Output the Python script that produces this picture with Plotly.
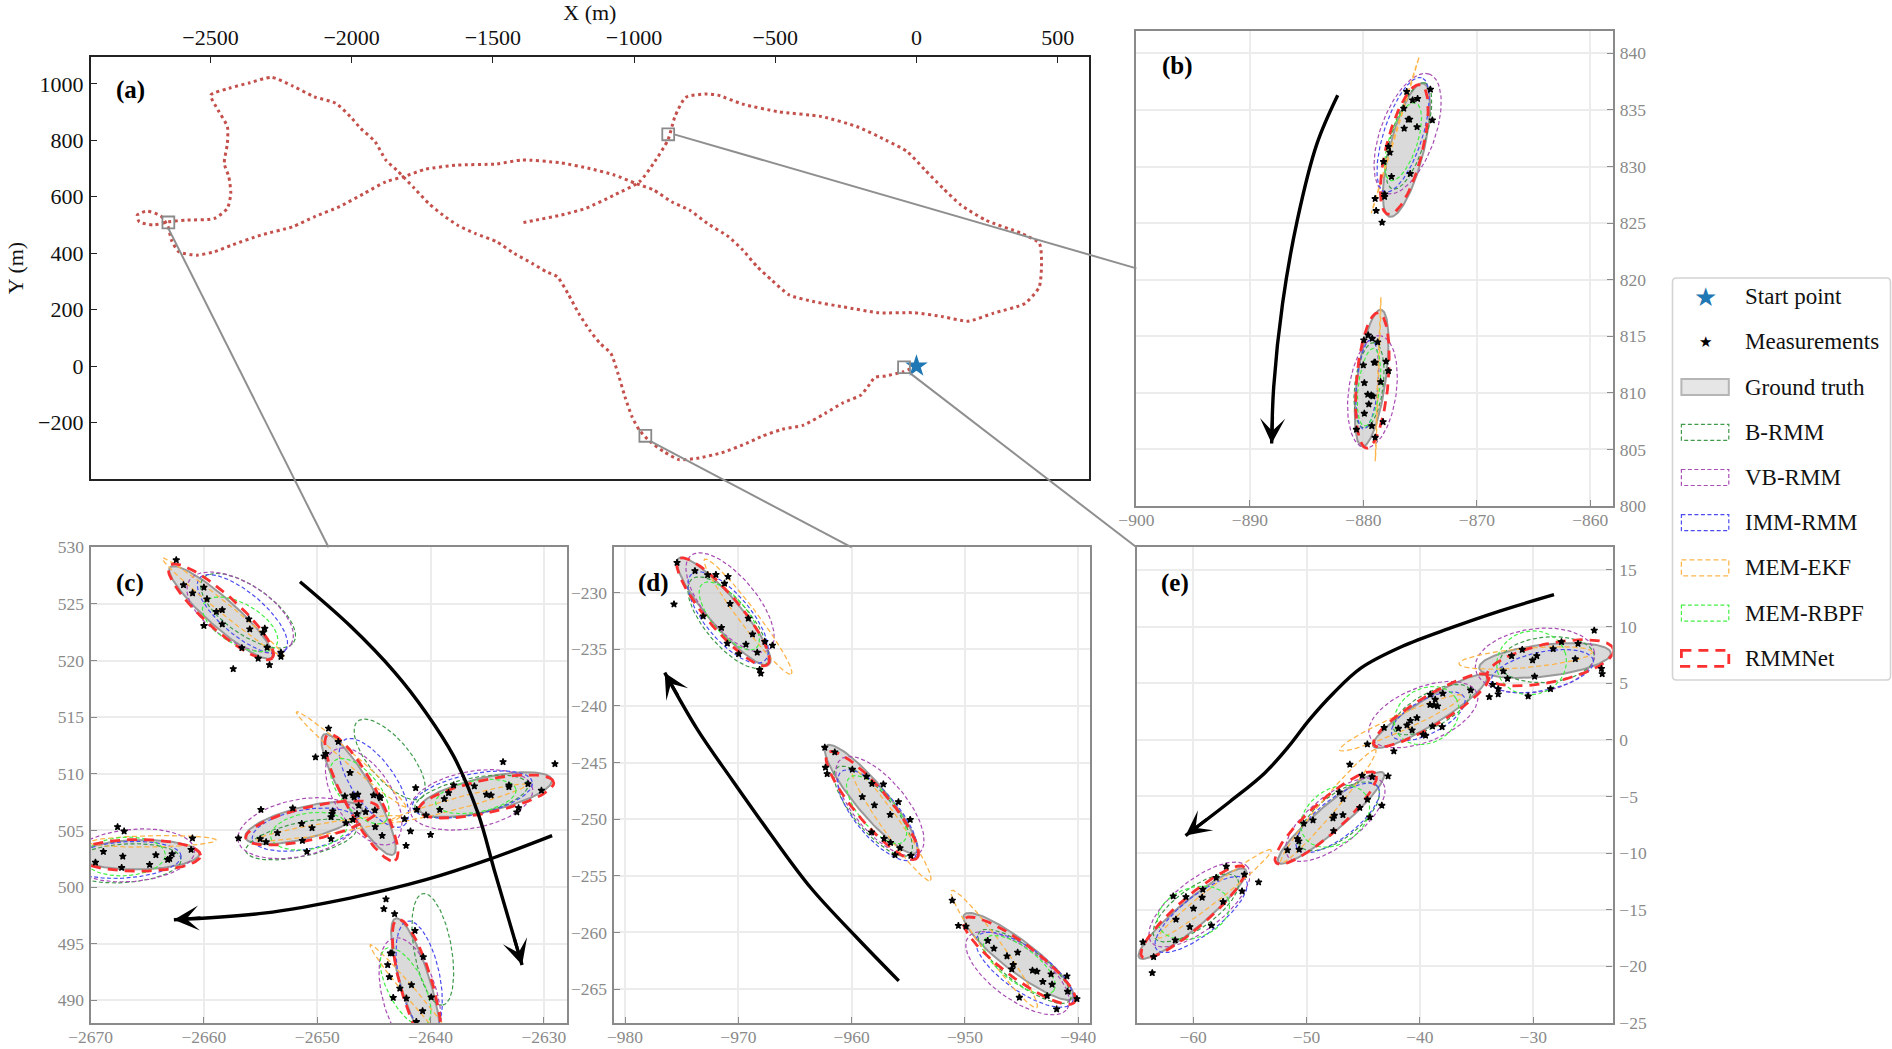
import numpy as np
import plotly.graph_objects as go

W, H = 1892, 1049
SERIF = "Liberation Serif"

# ---------- panel (a): trajectory ----------
TRACK_X = [0,-46,-109,-147,-172,-197,-260,-324,-400,-475,-551,-602,-690,-779,-842,-893,-943,-981,-1007,-1032,-1057,-1082,-1120,-1158,-1196,-1234,-1272,-1310,-1361,-1424,-1487,-1563,-1626,-1677,-1727,-1778,-1841,-1879,-1917,-1968,-2005,-2056,-2132,-2208,-2284,-2360,-2435,-2499,-2473,-2440,-2440,-2451,-2435,-2428,-2440,-2486,-2587,-2650,-2701,-2752,-2759,-2726,-2676,-2650,-2638,-2612,-2549,-2486,-2423,-2322,-2208,-2132,-2043,-1955,-1879,-1816,-1740,-1626,-1487,-1399,-1259,-1158,-1070,-994,-931,-867,-804,-741,-665,-615,-564,-513,-450,-362,-260,-134,-8,94,182,271,384,435,443,435,372,245,157,94,30,-33,-109,-210,-336,-488,-615,-703,-741,-817,-855,-880,-931,-981,-1070,-1171,-1259,-1348,-1404]
TRACK_Y = [0,-20,-35,-40,-73,-103,-130,-168,-209,-224,-250,-274,-307,-327,-331,-304,-268,-227,-180,-109,-26,45,80,128,187,257,317,334,364,399,441,470,500,535,576,630,695,730,795,842,884,931,954,992,1023,1004,984,960,907,848,789,718,671,612,559,523,517,511,500,511,535,549,532,494,446,405,393,405,429,464,494,529,565,612,653,671,697,712,716,730,720,700,677,647,624,582,553,506,458,411,352,305,252,228,210,189,189,175,159,187,222,281,376,435,470,517,571,630,695,760,801,848,884,901,928,960,964,952,884,801,718,653,606,559,535,517,506]

# panel ranges (detail views are the boxes marked in panel a)
RANGE_A = ([-2924, 611], [-400, 1095])
RANGE_B = ([-900, -858], [800, 842])
RANGE_C = ([-2670, -2628], [488, 530])
RANGE_D = ([-981, -939], [-268, -226])
RANGE_E = ([-65, -23], [-25, 17])

# Ellipses: (centre x, centre y, semi-major, semi-minor, angle deg)
ELL_B = {
 "Ground truth": [(-876.2,831.45,6.08,1.5,75.8),(-879.27,811.3,6.1,1.25,82.2)],
 "B-RMM": [(-876,832.7,4.9,1.5,73),(-879.5,810.67,3.8,1.25,83)],
 "VB-RMM": [(-876.1,832.9,5.6,2.4,70),(-879.2,810.1,5.0,2.1,82)],
 "IMM-RMM": [(-876.5,832.8,5.3,1.7,72),(-879.65,810.75,3.95,0.95,85)],
 "MEM-EKF": [(-877.2,832.75,7.2,0.05,73),(-878.7,811.2,7.25,0.05,88)],
 "MEM-RBPF": [(-876.5,832.2,3.6,1.25,72),(-879.5,810.5,3.45,0.95,83)],
 "RMMNet": [(-876.4,831.5,5.9,1.6,76),(-879.2,811.1,6.0,1.4,85)],
}
ELL_C = {
 "Ground truth": [(-2658.5,524.25,6.0,1.25,-41.6),(-2646.35,508.17,6.12,1.35,-60),(-2651.2,505.66,5.3,1.4,14),(-2665.7,502.86,5.3,1.3,1),(-2635.15,508.17,6.0,1.5,12.7),(-2641.3,491.4,6.1,1.3,-73)],
 "B-RMM": [(-2656.1,524.4,4.9,2.1,-35),(-2643.6,511.27,4.4,1.8,-50),(-2651.4,504.2,5.0,1.5,12),(-2667,502.1,5.0,1.7,4),(-2636.4,508,5.1,1.6,12),(-2639.8,494.5,5.0,1.65,-80)],
 "VB-RMM": [(-2656.8,524.25,5.3,2.6,-32),(-2645.9,508,4.85,2.5,-57),(-2651.7,505.2,5.4,2.5,12),(-2666.3,502.8,5.5,2.3,5),(-2636.4,507.7,5.5,2.5,11),(-2641.8,490.3,5.4,2.4,-74)],
 "IMM-RMM": [(-2656.6,524.1,4.95,1.9,-40),(-2645,509.2,4.6,1.9,-55),(-2651.1,505.07,4.7,1.75,10),(-2667,502.4,5.0,1.6,4),(-2636.3,508.17,5.4,1.8,12),(-2641,492.1,5.0,1.8,-78)],
 "MEM-EKF": [(-2658.3,524.7,6.9,0.5,-39),(-2647,511.27,6.4,0.5,-41),(-2649,505.2,6.4,0.5,9),(-2664.5,504.04,5.6,0.5,1),(-2637.6,507.4,6.3,0.5,15),(-2641.2,490,6.4,0.5,-50)],
 "MEM-RBPF": [(-2656.8,523.2,3.7,1.8,-30),(-2646.25,508.47,3.5,1.7,-50),(-2650.75,504.93,3.4,1.6,9),(-2667,502.7,3.6,1.7,3),(-2636,508,3.6,1.4,10),(-2642.2,491.2,3.8,1.6,-63)],
 "RMMNet": [(-2658.5,524.3,6.1,1.5,-42),(-2646.1,507.9,6.3,1.45,-62),(-2650.45,505.66,6.0,1.45,13),(-2665.8,502.8,5.5,1.4,0),(-2635.1,508,6.1,1.45,12),(-2641.2,491.2,6.2,1.4,-74)],
}
ELL_D = {
 "Ground truth": [(-971.29,-231.66,6.15,1.37,-49.4),(-958.27,-248.25,6.17,1.37,-50),(-945.27,-262.12,6.04,1.37,-37.6)],
 "B-RMM": [(-970.9,-232.65,5.0,2.0,-50),(-958.1,-249.3,5.0,1.7,-50),(-944.74,-263,5.0,1.6,-37)],
 "VB-RMM": [(-970.73,-230.88,5.4,2.3,-50),(-957.5,-248.86,5.4,2.3,-50),(-945.35,-263.6,5.4,2.3,-36)],
 "IMM-RMM": [(-970.9,-232.2,5.0,2.0,-50),(-957.72,-249.66,5.0,1.9,-50),(-944.74,-263.3,5.1,1.9,-35)],
 "MEM-EKF": [(-969.15,-232.12,6.35,0.8,-53),(-956.5,-250.5,6.0,0.8,-55),(-947.42,-261.48,6.4,0.8,-54)],
 "MEM-RBPF": [(-970.8,-232.06,3.7,1.55,-50),(-957.8,-249.16,3.7,1.55,-50),(-945.2,-262.86,3.8,1.55,-37)],
 "RMMNet": [(-971.35,-231.7,6.1,1.5,-50),(-958.18,-248.8,6.1,1.5,-50),(-945.2,-262.5,6.1,1.5,-37)],
}
ELL_E = {
 "Ground truth": [(-28.96,7.01,5.84,1.4,6.5),(-39.1,2.52,5.88,1.15,31.7),(-47.84,-6.89,6.1,1.15,40.5),(-60.06,-15.35,6.1,1.2,39.6)],
 "B-RMM": [(-28.8,7.08,4.2,2.0,5),(-38.95,2.67,3.8,1.5,28),(-47.15,-6.75,4.3,1.9,38),(-59.76,-14.84,4.5,1.75,36)],
 "VB-RMM": [(-29.85,7,5.3,2.8,8),(-39.7,2.23,5.1,2.4,22),(-47.46,-7.04,5.3,2.2,38),(-59.45,-14.54,5.4,2.2,38)],
 "IMM-RMM": [(-29.2,6.06,4.6,1.7,12),(-39.26,2.08,3.6,1.5,28),(-47.25,-6.9,4.5,1.7,38),(-59.3,-15.42,5.0,1.7,38)],
 "MEM-EKF": [(-30.67,7.23,5.9,0.85,5),(-41.7,1.5,5.9,0.7,24),(-48.07,-5.86,6.5,0.7,50),(-58.1,-13.6,6.3,0.65,38)],
 "MEM-RBPF": [(-30.15,6.8,3.1,2.8,15),(-39.4,2.14,3.0,2.4,30),(-47.46,-6.75,3.3,2.4,35),(-59.97,-15.27,3.3,2.2,20)],
 "RMMNet": [(-28.5,6.8,5.7,1.7,12),(-39,2.6,5.9,1.3,31),(-48.3,-6.9,5.9,1.4,42),(-60,-15.2,6.0,1.35,41)],
}

# Measurements
MEAS_B_X = [-876.18,-875.66,-875.22,-876.44,-876.05,-875.92,-873.92,-874.09,-876.4,-875.27,-877.79,-877.66,-878.22,-875.87,-877.52,-878.13,-878.13,-878.96,-878.87,-878.35,
            -879.96,-879.57,-879.22,-878.74,-879.04,-878.96,-880,-878,-877.79,-878.48,-879.91,-879.61,-879.3,-879.17,-879.52,-879.91,-879.26,-878.26,-880.61,-878.96]
MEAS_B_Y = [836.61,835.87,835.99,835.14,834.16,834.16,834.1,836.82,833.37,833.49,831.75,831.25,830.42,829.36,829.1,827.56,827.33,827.15,826.09,825.06,
            814.65,815.1,814.8,814.48,812.68,812.68,812.44,812.77,811.94,810.97,810.88,809.85,809.79,809.7,808.99,808.17,807.08,807.43,806.76,806.05]
MEAS_C_X = [-2662.44,-2661.8,-2661,-2660,-2659.73,-2658.9,-2658.38,-2658.38,-2660,-2656.04,-2655.95,-2654.63,-2654.79,-2654.42,-2656.65,-2655.21,-2654.21,-2653.2,-2653.2,-2657.41,
            -2649,-2648.14,-2650.15,-2649.39,-2649.24,-2647.1,-2647.56,-2646.86,-2646.43,-2646.74,-2645.03,-2644.51,-2644.42,-2646.34,-2645.73,-2644.91,-2646.49,-2646.86,-2644.88,-2644.27,-2642.16,-2641.77,-2642.29,-2641.31,-2641.22,
            -2654.97,-2652.16,-2656.95,-2655.03,-2654.51,-2653.51,-2651.37,-2650.46,-2651.31,-2650.91,-2648.69,-2648.63,-2648.78,-2648.78,-2647.47,
            -2667.62,-2667.04,-2668.87,-2667.16,-2669.57,-2667.26,-2664.79,-2664.24,-2662.8,-2663.02,-2663.2,-2661.13,-2661.01,
            -2640,-2640.4,-2639.18,-2638.78,-2638.41,-2637.96,-2636.13,-2635.06,-2634.66,-2633.08,-2633.08,-2633.6,-2631.4,-2630.21,-2629.02,-2632.23,-2632.38,
            -2643.93,-2644.12,-2643.17,-2641.37,-2643.54,-2643.41,-2640.64,-2643.78,-2643.63,-2641.68,-2642.71,-2643.29,-2642.13,-2639.94,-2640.7,-2641.25]
MEAS_C_Y = [528.88,526.67,525.96,526.46,525.43,524.31,524.48,523.22,523.07,523.66,522.77,522.83,522.48,521.15,521.12,520.18,519.62,520.71,520.35,519.26,
            514.01,512.83,511.47,511.56,511.77,510.09,508.02,508.11,508.17,507.94,508.11,508.02,507.88,507.2,506.64,506.78,506.46,505.96,505.31,504.54,503.66,504.93,506.02,508.76,506.84,
            506.84,506.96,504.31,504.25,503.98,504.78,505.6,505.22,504.1,503.13,506.49,506.7,506.19,504.25,505.66,
            505.31,504.93,503.13,502.71,502.18,501.71,501.98,502.83,502.92,502.51,502.42,503.3,504.31,
            504.63,506.34,506.84,507.79,508.32,509,508.91,508.17,508.11,509,508.85,511.06,509.11,508.53,510.88,506.99,506.61,
            498.94,498.08,497.64,496.16,494.16,494.16,493.83,493.13,492.06,491.36,491.06,490.24,490.18,490.27,489.06,488.11]
MEAS_D_X = [-975.41,-973.83,-972.71,-971.98,-970.91,-971.22,-975.68,-970.73,-973.1,-969.12,-971.49,-968.75,-970.97,-969.33,-967.66,-966.99,-969.97,-968.33,-968.12,-968.02,
            -962.37,-961.49,-962.31,-962.16,-959.94,-958.69,-958.21,-957.2,-959.06,-957.99,-955.87,-956.6,-954.83,-958.24,-957.14,-956.57,-955.74,-956.17,-954.77,
            -951.12,-950.58,-949.91,-947.99,-947.45,-946.29,-945.35,-945.74,-945.87,-944.04,-943.65,-942.4,-941,-943.13,-942.31,-940.94,-942.74,-940.12,-945.2,-941.91]
MEAS_D_Y = [-227.35,-228.08,-228.44,-228.41,-228.59,-229.2,-231.03,-230.97,-232.09,-232.27,-233.09,-233.68,-234.48,-234.57,-234.33,-234.66,-235.42,-235.28,-236.81,-237.13,
            -243.68,-244.09,-245.44,-246,-245.62,-246.24,-246.86,-246.92,-248.04,-248.77,-248.48,-249.6,-250.04,-251.16,-251.72,-252.07,-252.55,-253.17,-253.22,
            -257.17,-259.41,-259.47,-260.74,-261.42,-262.09,-261.77,-262.86,-263.24,-263.36,-263.45,-263.69,-263.86,-264.36,-264.6,-265.22,-265.6,-265.87,-265.75,-266.78]
MEAS_E_X = [-24.62,-27.51,-26.05,-28.24,-30.97,-31.91,-29.69,-30.06,-26.29,-23.98,-23.92,-32.64,-32.27,-29.88,-28.48,-30.45,-33.58,-33.09,-33.09,-33.88,
            -35.52,-37.98,-39.08,-38.65,-39.11,-38.74,-38.44,-40.26,-40.84,-41.14,-41.9,-40.69,-43.15,-38.04,-38.89,-39.71,-39.5,-44.63,-42.3,
            -46.18,-42.81,-45.09,-44.21,-47.12,-46.79,-44.63,-45.3,-43.36,-46.79,-44.42,-47.55,-47.67,-49.43,-50.25,-47.61,-50.8,-50.68,-50.65,-51.68,
            -57.08,-54.23,-57.97,-55.48,-55.69,-59.15,-60.64,-61.76,-59.21,-57.36,-59.97,-61.52,-60.3,-58.39,-61.58,-64.43,-63.49,-63.61]
MEAS_E_Y = [9.67,8.65,8.5,8.03,7.97,7.41,7.41,7.03,7.14,6.29,5.82,6.06,5.41,5.59,4.5,3.85,4.88,4.5,4.03,3.79,
            4.38,4.09,4,3.56,3.11,3.06,2.97,1.94,1.7,1.29,1,0.85,1.08,1.14,1.2,0.47,0.38,-0.39,-1,
            -2.18,-3.21,-3.15,-3.27,-4.62,-5.21,-5.27,-5.98,-5.8,-6.62,-6.83,-6.68,-6.92,-7.09,-7.39,-8.04,-8.74,-8.95,-9.68,-9.74,
            -11.18,-12.57,-12.16,-11.89,-13.36,-13.21,-13.86,-13.8,-13.92,-14.3,-14.89,-15.86,-16.51,-16.39,-17.69,-17.86,-19.16,-20.57]

# Direction arrows (x list, y list), last point = arrow tip
ARROWS_B = [([-882.26,-884.08,-885.82,-887.12,-887.9,-888.08],[836.3,832.04,825.26,817.9,810.53,805.52])]
ARROWS_C = [([-2651.52,-2647.1,-2643.14,-2640.4,-2637.96,-2635.82,-2634.3,-2631.92],[526.96,523.07,518.94,515.4,511.56,506.55,501.24,493.13]),
            ([-2629.27,-2634.9,-2640.4,-2647.1,-2654.73,-2662.65],[504.54,502.42,500.65,499.03,497.7,497.11])]
ARROWS_D = [([-955.84,-959.64,-963.59,-967.23,-970.58,-973.62,-976.5],[-264.28,-260.36,-256.08,-251.22,-246.5,-242.08,-237.07])]
ARROWS_E = [([-28.17,-33.03,-37.29,-41.54,-45.18,-47.61,-49.74,-51.56,-53.68,-56.72,-60.67],[12.82,11.35,9.88,8.26,6.35,4.14,1.79,-0.56,-2.92,-5.42,-8.45])]

TICKS_A_X = [-2500,-2000,-1500,-1000,-500,0,500]
TICKS_A_Y = [-200,0,200,400,600,800,1000]
TICKS_B_X = [-900,-890,-880,-870,-860]
TICKS_B_Y = [800,805,810,815,820,825,830,835,840]
TICKS_C_X = [-2670,-2660,-2650,-2640,-2630]
TICKS_C_Y = [490,495,500,505,510,515,520,525,530]
TICKS_D_X = [-980,-970,-960,-950,-940]
TICKS_D_Y = [-230,-235,-240,-245,-250,-255,-260,-265]
TICKS_E_X = [-60,-50,-40,-30]
TICKS_E_Y = [-25,-20,-15,-10,-5,0,5,10,15]

LEGEND_LABELS = ["Start point","Measurements","Ground truth","B-RMM","VB-RMM","IMM-RMM","MEM-EKF","MEM-RBPF","RMMNet"]

STYLE = {
 "B-RMM": dict(color="#3f9a4a", width=1.2, dash="4px,2.5px"),
 "VB-RMM": dict(color="#a84cb4", width=1.2, dash="4px,2.5px"),
 "IMM-RMM": dict(color="#4a4cf0", width=1.2, dash="4px,2.5px"),
 "MEM-EKF": dict(color="#fdb54a", width=1.3, dash="5px,3px"),
 "MEM-RBPF": dict(color="#44f044", width=1.2, dash="4px,2.5px"),
 "RMMNet": dict(color="#fb3030", width=2.8, dash="10px,7px"),
}
GT_FILL = "rgba(205,205,205,0.75)"
GT_LINE = "#999999"

# Pixel boxes of the panels (left, right, top, bottom)
BOX_A = (90.7, 1089, 57, 479)
BOX_B = (1136.4, 1613, 30.7, 506)
BOX_C = (90.6, 566.5, 547.3, 1023)
BOX_D = (613.7, 1089.6, 547.3, 1023)
BOX_E = (1136.5, 1612.6, 547.3, 1023)

def px(x): return x / W
def py(y): return 1 - y / H

fig = go.Figure()

def ell_xy(items):
    xs, ys = [], []
    for cx, cy, a, b, ang in items:
        t = np.linspace(0, 2*np.pi, 121)
        th = np.radians(ang)
        xs += list(cx + a*np.cos(t)*np.cos(th) - b*np.sin(t)*np.sin(th)) + [None]
        ys += list(cy + a*np.cos(t)*np.sin(th) + b*np.sin(t)*np.cos(th)) + [None]
    return xs, ys

annotations, shapes = [], []

def add_arrow(arrow, xa, ya):
    ax_, ay_ = arrow
    fig.add_trace(go.Scatter(x=ax_, y=ay_, xaxis=xa, yaxis=ya, mode="lines",
                             line=dict(color="black", width=3.4, shape="spline", smoothing=1), showlegend=False, hoverinfo="skip"))
    # arrow head: short run along the last part of the curve, about 2.5 data units long
    dx, dy = ax_[-2]-ax_[-1], ay_[-2]-ay_[-1]
    f = 2.5 / np.hypot(dx, dy)
    annotations.append(dict(x=ax_[-1], y=ay_[-1], ax=ax_[-1]+dx*f, ay=ay_[-1]+dy*f,
                            xref=xa, yref=ya, axref=xa, ayref=ya, text="", showarrow=True,
                            arrowhead=3, arrowsize=1.4, arrowwidth=3, arrowcolor="black", standoff=0))

def add_panel(ell, mx, my, arrows, xa, ya):
    x, y = ell_xy(ell["Ground truth"])
    fig.add_trace(go.Scatter(x=x, y=y, xaxis=xa, yaxis=ya, mode="lines", fill="toself", fillcolor=GT_FILL,
                             line=dict(color=GT_LINE, width=2), name="Ground truth", showlegend=False, hoverinfo="skip"))
    for m in ["B-RMM","VB-RMM","IMM-RMM","MEM-EKF","MEM-RBPF","RMMNet"]:
        x, y = ell_xy(ell[m])
        fig.add_trace(go.Scatter(x=x, y=y, xaxis=xa, yaxis=ya, mode="lines", line=STYLE[m], name=m, showlegend=False, hoverinfo="skip"))
    fig.add_trace(go.Scatter(x=mx, y=my, xaxis=xa, yaxis=ya, mode="markers", name="Measurements", showlegend=False,
                             marker=dict(symbol="star", size=5, color="black", line=dict(width=1.2, color="black")), hoverinfo="skip"))
    for a in arrows:
        add_arrow(a, xa, ya)

# panel a
fig.add_trace(go.Scatter(x=TRACK_X, y=TRACK_Y, xaxis="x", yaxis="y", mode="lines",
                         line=dict(color="#c4504c", width=3, dash="3px,3.5px", shape="spline", smoothing=0.6),
                         name="Trajectory", showlegend=False, hoverinfo="skip"))
fig.add_trace(go.Scatter(x=[0], y=[0], xaxis="x", yaxis="y", mode="markers", name="Start point", showlegend=False,
                         marker=dict(symbol="star", size=17, color="#1f77b4", line=dict(width=0)), hoverinfo="skip"))

add_panel(ELL_B, MEAS_B_X, MEAS_B_Y, ARROWS_B, "x2", "y2")
add_panel(ELL_C, MEAS_C_X, MEAS_C_Y, ARROWS_C, "x3", "y3")
add_panel(ELL_D, MEAS_D_X, MEAS_D_Y, ARROWS_D, "x4", "y4")
add_panel(ELL_E, MEAS_E_X, MEAS_E_Y, ARROWS_E, "x5", "y5")

def axis(box, horizontal, rng, ticks, anchor, side, detail):
    l, r, t, b = box
    dom = [px(l), px(r)] if horizontal else [py(b), py(t)]
    col = "#8a8a8a" if detail else "#222222"
    return dict(domain=dom, range=rng, tickvals=ticks, anchor=anchor, side=side, mirror=True,
                showline=True, linecolor=col, linewidth=2.4 if detail else (2.2 if horizontal else 1.6),
                ticks="inside", ticklen=6, tickwidth=1.4, tickcolor=col,
                tickfont=dict(family=SERIF, size=17.5 if detail else 22, color="#8a8a8a" if detail else "#111111"),
                showgrid=detail, gridcolor="#ececec", gridwidth=1.6, zeroline=False, automargin=False,
                ticklabelstandoff=-3 if (detail and horizontal) else 1)

layout = dict(
    width=W, height=H, margin=dict(l=0, r=0, t=0, b=0), paper_bgcolor="white", plot_bgcolor="white", showlegend=False,
    font=dict(family=SERIF, color="#111111"),
    xaxis=axis(BOX_A, True, RANGE_A[0], TICKS_A_X, "y", "top", False),
    yaxis=axis(BOX_A, False, RANGE_A[1], TICKS_A_Y, "x", "left", False),
    xaxis2=axis(BOX_B, True, RANGE_B[0], TICKS_B_X, "y2", "bottom", True),
    yaxis2=axis(BOX_B, False, RANGE_B[1], TICKS_B_Y, "x2", "right", True),
    xaxis3=axis(BOX_C, True, RANGE_C[0], TICKS_C_X, "y3", "bottom", True),
    yaxis3=axis(BOX_C, False, RANGE_C[1], TICKS_C_Y, "x3", "left", True),
    xaxis4=axis(BOX_D, True, RANGE_D[0], TICKS_D_X, "y4", "bottom", True),
    yaxis4=axis(BOX_D, False, RANGE_D[1], TICKS_D_Y, "x4", "left", True),
    xaxis5=axis(BOX_E, True, RANGE_E[0], TICKS_E_X, "y5", "bottom", True),
    yaxis5=axis(BOX_E, False, RANGE_E[1], TICKS_E_Y, "x5", "right", True),
)
layout["xaxis"]["title"] = dict(text="X (m)", font=dict(family=SERIF, size=22, color="#111111"), standoff=6)
layout["yaxis"]["title"] = dict(text="Y (m)", font=dict(family=SERIF, size=22, color="#111111"), standoff=8)

# zoom boxes in panel a + connector lines to the detail panels
def a_px(x, y):
    l, r, t, b = BOX_A
    return (l + (x-RANGE_A[0][0])/(RANGE_A[0][1]-RANGE_A[0][0])*(r-l),
            b - (y-RANGE_A[1][0])/(RANGE_A[1][1]-RANGE_A[1][0])*(b-t))

for rng in (RANGE_B, RANGE_C, RANGE_D, RANGE_E):
    shapes.append(dict(type="rect", xref="x", yref="y", x0=rng[0][0], x1=rng[0][1], y0=rng[1][0], y1=rng[1][1],
                       line=dict(color="#8a8a8a", width=1.8), layer="above"))

def connector(x0, y0, x1, y1):
    shapes.append(dict(type="line", xref="paper", yref="paper", x0=px(x0), x1=px(x1), y0=py(y0), y1=py(y1),
                       line=dict(color="#8f8f8f", width=2), layer="above"))

p = a_px(RANGE_B[0][1], sum(RANGE_B[1])/2); connector(p[0], p[1], BOX_B[0], (BOX_B[2]+BOX_B[3])/2)
p = a_px(sum(RANGE_C[0])/2, RANGE_C[1][0]); connector(p[0], p[1], (BOX_C[0]+BOX_C[1])/2, BOX_C[2])
p = a_px(RANGE_D[0][1], RANGE_D[1][0]); connector(p[0], p[1], (BOX_D[0]+BOX_D[1])/2, BOX_D[2])
p = a_px(RANGE_E[0][1], RANGE_E[1][0]); connector(p[0], p[1], BOX_E[0], BOX_E[2])

# panel letters
for txt, (xp, yp) in {"(a)":(130.7,90),"(b)":(1177,65.7),"(c)":(129.5,582.7),"(d)":(653.7,583.3),"(e)":(1175,582.7)}.items():
    annotations.append(dict(x=px(xp), y=py(yp), xref="paper", yref="paper", text=f"<b>{txt}</b>", showarrow=False,
                            font=dict(family=SERIF, size=25, color="black"), xanchor="center", yanchor="middle"))

# hand-built legend: frame, swatches, labels
LX0, LX1, LY0, LY1 = 1672.5, 1890.5, 278, 680
R = 4
path = (f"M {px(LX0+R)} {py(LY0)} L {px(LX1-R)} {py(LY0)} Q {px(LX1)} {py(LY0)} {px(LX1)} {py(LY0+R)} "
        f"L {px(LX1)} {py(LY1-R)} Q {px(LX1)} {py(LY1)} {px(LX1-R)} {py(LY1)} "
        f"L {px(LX0+R)} {py(LY1)} Q {px(LX0)} {py(LY1)} {px(LX0)} {py(LY1-R)} "
        f"L {px(LX0)} {py(LY0+R)} Q {px(LX0)} {py(LY0)} {px(LX0+R)} {py(LY0)} Z")
shapes.append(dict(type="path", xref="paper", yref="paper", path=path, fillcolor="white", line=dict(color="#d4d4d4", width=1.6), layer="above"))
for i, label in enumerate(LEGEND_LABELS):
    yc = 296.7 + 45.2*i
    annotations.append(dict(x=px(1743), y=py(yc), xref="paper", yref="paper", text=label, showarrow=False, xanchor="left", yanchor="middle",
                            font=dict(family=SERIF, size=23, color="#111111")))
    if i < 2:
        annotations.append(dict(x=px(1705), y=py(yc), xref="paper", yref="paper", text="★", showarrow=False, xanchor="center", yanchor="middle",
                                font=dict(family="DejaVu Sans", size=26 if i == 0 else 15, color="#1f77b4" if i == 0 else "black")))
    elif i == 2:
        shapes.append(dict(type="rect", xref="paper", yref="paper", x0=px(1681.4), x1=px(1728.8), y0=py(yc-8), y1=py(yc+8),
                           fillcolor="#e6e6e6", line=dict(color="#b5b5b5", width=2), layer="above"))
    else:
        shapes.append(dict(type="rect", xref="paper", yref="paper", x0=px(1681.4), x1=px(1728.8), y0=py(yc-8), y1=py(yc+8),
                           line=STYLE[label], layer="above"))

layout["annotations"] = annotations
layout["shapes"] = shapes
fig.update_layout(**layout)
fig.write_html("out.html", config={"displayModeBar": False},
               post_script="document.body.style.margin='0';document.body.style.overflow='hidden';")
